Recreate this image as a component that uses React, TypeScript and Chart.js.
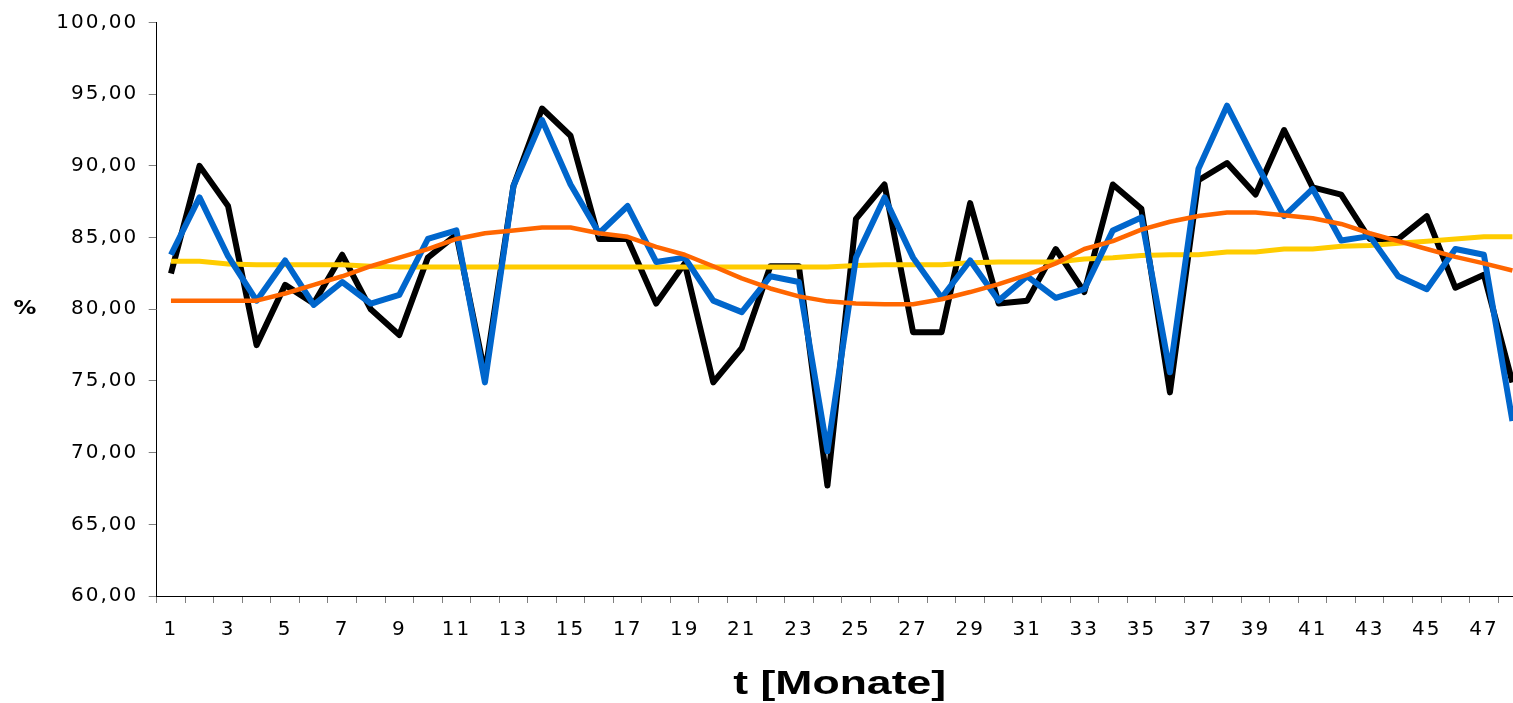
import React, { useEffect, useRef } from 'react';
import { Chart, registerables } from 'chart.js';

Chart.register(...registerables);

// ---- data ----
const months = ['1','2','3','4','5','6','7','8','9','10','11','12','13','14','15','16','17','18','19','20','21','22','23','24','25','26','27','28','29','30','31','32','33','34','35','36','37','38','39','40','41','42','43','44','45','46','47','48'];

const istWerte = [82.5, 90.0, 87.2, 77.5, 81.7, 80.4, 83.8, 80.0, 78.2, 83.6, 85.2, 75.5,
  88.6, 94.0, 92.1, 84.9, 84.9, 80.4, 83.2, 74.9, 77.3, 83.0, 83.0, 67.7,
  86.3, 88.7, 78.4, 78.4, 87.4, 80.4, 80.6, 84.2, 81.2, 88.7, 87.0, 74.2,
  89.0, 90.2, 88.0, 92.5, 88.5, 88.0, 84.9, 84.9, 86.5, 81.5, 82.4, 74.9];

const prognose = [83.8, 87.8, 83.7, 80.6, 83.4, 80.3, 81.9, 80.4, 81.0, 84.9, 85.5, 74.9,
  88.6, 93.2, 88.7, 85.3, 87.2, 83.3, 83.6, 80.6, 79.8, 82.3, 81.9, 70.1,
  83.6, 87.8, 83.6, 80.8, 83.4, 80.6, 82.3, 80.8, 81.4, 85.5, 86.4, 75.6,
  89.8, 94.2, 90.3, 86.5, 88.4, 84.8, 85.1, 82.3, 81.4, 84.2, 83.8, 72.2];

const trend = [80.6, 80.6, 80.6, 80.6, 81.1, 81.7, 82.3, 83.0, 83.6, 84.2, 84.9, 85.3,
  85.5, 85.7, 85.7, 85.3, 85.05, 84.35, 83.8, 83.0, 82.15, 81.45, 80.9, 80.55,
  80.4, 80.35, 80.35, 80.7, 81.2, 81.75, 82.4, 83.2, 84.2, 84.75, 85.55, 86.1,
  86.5, 86.75, 86.75, 86.55, 86.35, 85.95, 85.3, 84.75, 84.2, 83.65, 83.2, 82.7];

const mittel = [83.35, 83.35, 83.15, 83.1, 83.1, 83.1, 83.1, 83.0, 82.95, 82.95, 82.95, 82.95,
  82.95, 82.95, 82.95, 82.95, 82.95, 82.95, 82.95, 82.95, 82.95, 82.95, 82.95, 82.95,
  83.05, 83.1, 83.1, 83.1, 83.25, 83.3, 83.3, 83.3, 83.5, 83.6, 83.75, 83.8,
  83.8, 84.0, 84.0, 84.2, 84.2, 84.4, 84.45, 84.6, 84.75, 84.9, 85.05, 85.05];

const yMin = 60;
const yMax = 100;
const yStep = 5;
const xTitle = 't [Monate]';
const yTitle = '%';

const W = 1530;
const H = 703;

const textPlugin = {
  id: 'texts',
  beforeDraw(chart: any) {
    chart.ctx.letterSpacing = '2px';
  },
  afterDraw(chart: any) {
    const ctx = chart.ctx;
    const a = chart.chartArea;
    ctx.save();
    ctx.letterSpacing = '0px';
    ctx.fillStyle = '#000';
    // y title (horizontal)
    ctx.save();
    ctx.translate(25, (a.top + a.bottom) / 2);
    ctx.scale(1.2, 1);
    ctx.font = 'bold 19px "DejaVu Sans"';
    ctx.textAlign = 'center';
    ctx.textBaseline = 'middle';
    ctx.fillText(yTitle, 0, 0);
    ctx.restore();
    // x title
    ctx.save();
    ctx.translate((a.left + a.right) / 2 - 2, 693.5);
    ctx.scale(1.31, 1);
    ctx.font = 'bold 34px "Liberation Sans"';
    ctx.textAlign = 'center';
    ctx.textBaseline = 'alphabetic';
    ctx.fillText(xTitle, 0, 0);
    ctx.restore();
    ctx.restore();
  },
};

export default function App() {
  const ref = useRef<HTMLCanvasElement>(null);

  useEffect(() => {
    if (!ref.current) return;
    const tickFont = { family: '"DejaVu Sans"', size: 20 };
    const chart = new Chart(ref.current, {
      type: 'line',
      data: {
        labels: months,
        datasets: [
          { label: 'Ist', data: istWerte, borderColor: '#000000', borderWidth: 6, order: 3 },
          { label: 'Gleitender Mittelwert', data: mittel, borderColor: '#FFCC00', borderWidth: 5, order: 2 },
          { label: 'Prognose', data: prognose, borderColor: '#0066CC', borderWidth: 6, order: 1 },
          { label: 'Trend', data: trend, borderColor: '#FF6600', borderWidth: 4.5, order: 0 },
        ].map((d) => ({
          ...d,
          pointRadius: 0,
          pointHoverRadius: 0,
          fill: false,
          tension: 0,
          borderJoinStyle: 'round' as const,
          borderCapStyle: 'butt' as const,
        })),
      },
      options: {
        responsive: false,
        animation: false,
        devicePixelRatio: 1,
        layout: { padding: { left: 0, top: 19.5, right: W - 1526.7, bottom: 0 } },
        plugins: { legend: { display: false }, tooltip: { enabled: false }, title: { display: false } },
        scales: {
          x: {
            type: 'category',
            offset: true,
            grid: { offset: true, drawOnChartArea: false, tickLength: 7, color: '#808080', lineWidth: 1 },
            border: { color: '#000000', width: 1 },
            ticks: {
              autoSkip: false,
              maxRotation: 0,
              minRotation: 0,
              padding: 15,
              color: '#000000',
              font: tickFont,
              callback: (_v: any, i: number) => (i % 2 === 0 ? months[i] : ''),
            },
            afterFit: (s: any) => { s.height = H - 596; },
          },
          y: {
            min: yMin,
            max: yMax,
            grid: { drawOnChartArea: false, tickLength: 8, color: '#808080', lineWidth: 1 },
            border: { color: '#000000', width: 1 },
            ticks: {
              stepSize: yStep,
              padding: 10.5,
              color: '#000000',
              font: tickFont,
              callback: (v: any) => Number(v).toFixed(2).replace('.', ','),
            },
            afterFit: (s: any) => { s.width = 156.7; },
          },
        },
      },
      plugins: [textPlugin],
    });
    return () => chart.destroy();
  }, []);

  return (
    <div style={{ position: 'fixed', left: 0, top: 0, width: 1513, height: 703, overflow: 'hidden', background: '#ffffff' }}>
      <canvas ref={ref} width={W} height={H} style={{ display: 'block', width: W, height: H }} />
    </div>
  );
}
